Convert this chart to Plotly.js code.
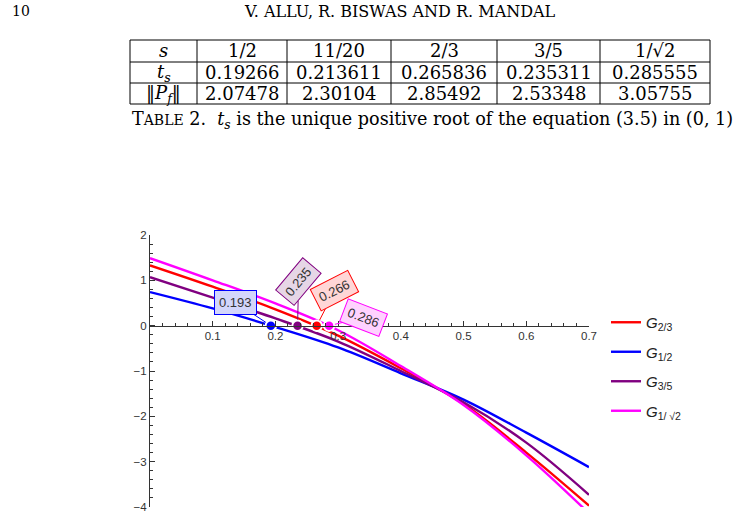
<!DOCTYPE html>
<html>
<head>
<meta charset="utf-8">
<script src="https://cdn.plot.ly/plotly-3.0.1.min.js"></script>
<style>
  html, body { margin: 0; padding: 0; background: #fff; }
  #chart { width: 750px; height: 528px; }
</style>
</head>
<body>
<div id="chart"></div>
<script>
// ---- Table 2: parameter s, root t_s and norm ||P_f|| ----
const rowLabels = ['<i>s</i>', '<i>t</i><sub><i>s</i></sub>', '‖<i>P</i><sub><i>f</i></sub>‖'];
const sLabels = ['1/2', '11/20', '2/3', '3/5', '1/√2'];
const tsValues = [0.19266, 0.213611, 0.265836, 0.235311, 0.285555];
const normValues = [2.07478, 2.30104, 2.85492, 2.53348, 3.05755];

// ---- G_s(t) sampled on t in [0, 0.7] ----
const tGrid = [0, 0.1, 0.2, 0.3, 0.4, 0.5, 0.6, 0.7];
const gTwoThirds = [1.33, 0.86, 0.36, -0.22, -0.94, -1.73, -2.80, -3.97];
const gHalf = [0.74, 0.38, -0.03, -0.48, -1.05, -1.63, -2.36, -3.12];
const gThreeFifths = [1.07, 0.62, 0.16, -0.35, -1.00, -1.69, -2.58, -3.73];
const gInvSqrt2 = [1.49, 1.00, 0.49, -0.10, -0.89, -1.75, -2.86, -4.14];

// series names (legend) and their roots, taken from the table
const seriesNames = ['<i>G</i><sub>2/3</sub>', '<i>G</i><sub>1/2</sub>', '<i>G</i><sub>3/5</sub>', '<i>G</i><sub>1/ √2</sub>'];
const seriesValues = [gTwoThirds, gHalf, gThreeFifths, gInvSqrt2];
const seriesRoots = [tsValues[2], tsValues[0], tsValues[3], tsValues[4]];

// ---- styling ----
const lineColors = ['#ff0000', '#0000ff', '#800080', '#ff00ff'];
const calloutFill = ['#ffd6d6', '#d3d6fb', '#e6d6e6', '#ffd2ff'];
const calloutAngle = [-27, 0, -50, 21];
const calloutOffset = [[18, -35], [-35, -23], [1, -44], [34, -8]];

const W = 750, H = 528;
const px = v => v / W;          // page pixel -> paper fraction (margins are zero)
const py = v => 1 - v / H;

// table geometry (pixels on the page)
const tableLeft = 130, tableTop = 40;
const colWidths = [67, 90, 104, 106, 103, 110];
const rowHeights = [22, 21, 21];

// plot box
const xDom = [px(150), px(589)];
const yDom = [py(507), py(235)];
const yRange = [-4, 2];
const xAxisPos = yDom[0] + (0 - yRange[0]) / (yRange[1] - yRange[0]) * (yDom[1] - yDom[0]);

const traces = [];

// curves
seriesValues.forEach((vals, i) => {
  traces.push({
    type: 'scatter', mode: 'lines',
    x: tGrid, y: vals,
    name: seriesNames[i],
    legendgroup: 'g' + i,
    line: { color: lineColors[i], width: 2.4, shape: 'spline', smoothing: 1 },
    hoverinfo: 'skip'
  });
});

// roots on the t-axis
traces.push({
  type: 'scatter', mode: 'markers',
  x: seriesRoots, y: seriesRoots.map(() => 0),
  marker: { color: lineColors, size: 10.5, line: { color: '#ffffff', width: 2 } },
  showlegend: false, hoverinfo: 'skip', cliponaxis: false
});

const serif = 'DejaVu Serif';
const sans = 'Liberation Sans';

// callout labels at each root
const annotations = seriesRoots.map((r, i) => ({
  x: r, y: 0, xref: 'x', yref: 'y',
  text: r.toFixed(3),
  showarrow: true, arrowhead: 0, arrowwidth: 1, arrowcolor: lineColors[i],
  standoff: 6,
  ax: calloutOffset[i][0], ay: calloutOffset[i][1],
  textangle: calloutAngle[i],
  bgcolor: calloutFill[i], bordercolor: lineColors[i], borderwidth: 1, borderpad: 4,
  font: { family: sans, size: 13, color: '#333' }
}));

// table: grid lines and cell texts
const shapes = [];
const colEdges = [tableLeft];
colWidths.forEach(w => colEdges.push(colEdges[colEdges.length - 1] + w));
const rowEdges = [tableTop];
rowHeights.forEach(h => rowEdges.push(rowEdges[rowEdges.length - 1] + h));
const tableRight = colEdges[colEdges.length - 1];
const tableBottom = rowEdges[rowEdges.length - 1];

rowEdges.forEach(yv => shapes.push({
  type: 'line', xref: 'paper', yref: 'paper',
  x0: px(tableLeft), x1: px(tableRight), y0: py(yv), y1: py(yv),
  line: { color: '#000', width: 1 }
}));
colEdges.forEach(xv => shapes.push({
  type: 'line', xref: 'paper', yref: 'paper',
  x0: px(xv), x1: px(xv), y0: py(tableTop), y1: py(tableBottom),
  line: { color: '#000', width: 1 }
}));

const tableRows = [
  [rowLabels[0]].concat(sLabels),
  [rowLabels[1]].concat(tsValues.map(String)),
  [rowLabels[2]].concat(normValues.map(String))
];
tableRows.forEach((row, r) => {
  row.forEach((txt, c) => {
    annotations.push({
      xref: 'paper', yref: 'paper',
      x: px((colEdges[c] + colEdges[c + 1]) / 2),
      y: py((rowEdges[r] + rowEdges[r + 1]) / 2),
      xanchor: 'center', yanchor: 'middle',
      text: txt, showarrow: false,
      font: { family: serif, size: 18, color: '#000' }
    });
  });
});

// page header and table caption
annotations.push(
  { xref: 'paper', yref: 'paper', x: px(10), y: py(11), xanchor: 'left', yanchor: 'middle',
    text: '10', showarrow: false, font: { family: serif, size: 14, color: '#000' } },
  { xref: 'paper', yref: 'paper', x: px(400), y: py(11), xanchor: 'center', yanchor: 'middle',
    text: 'V. ALLU, R. BISWAS AND R. MANDAL', showarrow: false, font: { family: serif, size: 16, color: '#000' } },
  { xref: 'paper', yref: 'paper', x: px(130), y: py(120), xanchor: 'left', yanchor: 'middle',
    text: 'T<span style="font-size:14px">ABLE</span> 2.  <i>t</i><sub><i>s</i></sub> is the unique positive root of the equation (3.5) in (0, 1)',
    showarrow: false, font: { family: serif, size: 17.6, color: '#000' } }
);

const tickFont = { family: sans, size: 11.5, color: '#333' };

const layout = {
  width: W, height: H,
  margin: { l: 0, r: 0, t: 0, b: 0 },
  paper_bgcolor: '#fff', plot_bgcolor: 'rgba(0,0,0,0)',
  showlegend: true,
  legend: {
    x: px(606), y: py(306), xanchor: 'left', yanchor: 'top',
    font: { family: sans, size: 15, color: '#222' },
    tracegroupgap: 7, bgcolor: 'rgba(0,0,0,0)'
  },
  xaxis: {
    domain: xDom, range: [0, 0.7],
    anchor: 'free', position: xAxisPos,
    showgrid: false, zeroline: false,
    showline: true, linecolor: '#333', linewidth: 1,
    ticks: 'inside', ticklen: 5, tickcolor: '#333', tickwidth: 1,
    tickvals: [0.1, 0.2, 0.3, 0.4, 0.5, 0.6, 0.7],
    ticktext: ['0.1', '0.2', '0.3', '0.4', '0.5', '0.6', '0.7'],
    tickfont: tickFont,
    minor: { dtick: 0.02, tick0: 0, ticks: 'inside', ticklen: 2.5, tickcolor: '#333', showgrid: false }
  },
  yaxis: {
    domain: yDom, range: yRange,
    showgrid: false, zeroline: false,
    showline: true, linecolor: '#333', linewidth: 1,
    ticks: 'inside', ticklen: 5, tickcolor: '#333', tickwidth: 1,
    tickvals: [-4, -3, -2, -1, 0, 1, 2],
    tickfont: tickFont,
    minor: { dtick: 0.2, tick0: 0, ticks: 'inside', ticklen: 2.5, tickcolor: '#333', showgrid: false }
  },
  shapes: shapes,
  annotations: annotations
};

Plotly.newPlot('chart', traces, layout, { staticPlot: true, displayModeBar: false });
</script>
</body>
</html>
